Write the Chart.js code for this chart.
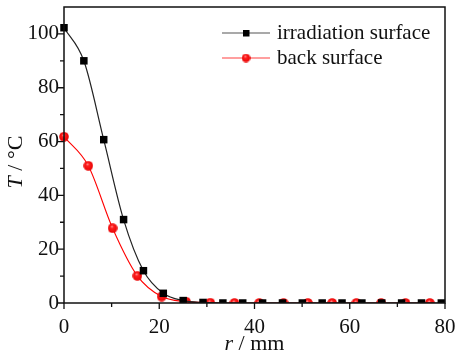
<!DOCTYPE html>
<html>
<head>
<meta charset="utf-8">
<script src="https://cdn.jsdelivr.net/npm/chart.js@4"></script>
<style>
  html, body { margin: 0; padding: 0; background: #fff; }
  #wrap { width: 455px; height: 355px; position: relative; }
</style>
</head>
<body>
<div id="wrap"><canvas id="grafico"></canvas></div>
<script>
// radio r (mm) y temperatura T (°C)
const rIrradiacion = [0, 4.17, 8.34, 12.51, 16.68, 20.85, 25.02, 29.19, 33.36, 37.53, 41.7, 45.87, 50.04, 54.21, 58.38, 62.55, 66.72, 70.89, 75.06, 79.23];
const tIrradiacion = [102.3, 90, 60.7, 31, 12, 3.6, 0.9, 0.2, 0, 0, 0, 0, 0, 0, 0, 0, 0, 0, 0, 0];
const rPosterior = [0, 5.1, 10.2, 15.4, 20.5, 25.6, 30.7, 35.8, 41.0, 46.1, 51.2, 56.3, 61.4, 66.6, 71.7, 76.8];
const tPosterior = [61.8, 51, 27.8, 10.1, 2.4, 0.5, 0.1, 0, 0, 0, 0, 0, 0, 0, 0, 0];
const etiquetasLeyenda = ['irradiation surface', 'back surface'];
const ticksX = [0, 20, 40, 60, 80];
const ticksY = [0, 20, 40, 60, 80, 100];

const FUENTE = '"Liberation Serif", "DejaVu Serif", serif';

// esfera roja con brillo
function crearEsfera(d) {
  const c = document.createElement('canvas');
  c.width = d; c.height = d;
  const g = c.getContext('2d');
  const grad = g.createRadialGradient(d * 0.42, d * 0.32, 0.3, d / 2, d / 2, d / 2);
  grad.addColorStop(0, '#ff9a9a');
  grad.addColorStop(0.25, '#ff2020');
  grad.addColorStop(1, '#e80000');
  g.fillStyle = grad;
  g.beginPath();
  g.arc(d / 2, d / 2, d / 2 - 0.2, 0, Math.PI * 2);
  g.fill();
  return c;
}
const esfera = crearEsfera(10);
const esferaLeyenda = crearEsfera(9);

const puntos = (xs, ys) => xs.map((x, i) => ({ x: x, y: ys[i] }));

const marcoYTicks = {
  id: 'marcoYTicks',
  afterDraw(chart) {
    const ctx = chart.ctx;
    const a = chart.chartArea;
    const sx = chart.scales.x;
    const sy = chart.scales.y;
    ctx.save();
    ctx.strokeStyle = '#111';
    ctx.lineWidth = 1.5;
    ctx.strokeRect(a.left, a.top, a.right - a.left, a.bottom - a.top);

    ctx.lineWidth = 1.3;
    ctx.beginPath();
    for (let v = 0; v <= 80; v += 10) {
      const px = sx.getPixelForValue(v);
      const largo = ticksX.includes(v) ? 6 : 4;
      ctx.moveTo(px, a.bottom);
      ctx.lineTo(px, a.bottom + largo);
    }
    for (let v = 0; v <= 100; v += 10) {
      const py = sy.getPixelForValue(v);
      const largo = ticksY.includes(v) ? 7 : 4;
      ctx.moveTo(a.left, py);
      ctx.lineTo(a.left - largo, py);
    }
    ctx.stroke();

    // titulos de ejes
    ctx.fillStyle = '#111';
    ctx.textBaseline = 'alphabetic';
    ctx.font = 'italic 22px ' + FUENTE;
    const wr = ctx.measureText('r').width;
    ctx.font = '22px ' + FUENTE;
    const wResto = ctx.measureText(' / mm').width;
    let x0 = (a.left + a.right) / 2 - (wr + wResto) / 2;
    ctx.font = 'italic 22px ' + FUENTE;
    ctx.fillText('r', x0, 350);
    ctx.font = '22px ' + FUENTE;
    ctx.fillText(' / mm', x0 + wr, 350);

    ctx.save();
    ctx.translate(22, 162);
    ctx.rotate(-Math.PI / 2);
    ctx.font = 'italic 22px ' + FUENTE;
    const wT = ctx.measureText('T').width;
    ctx.font = '22px ' + FUENTE;
    const wC = ctx.measureText(' / \u00B0C').width;
    const y0 = -(wT + wC) / 2;
    ctx.font = 'italic 22px ' + FUENTE;
    ctx.fillText('T', y0, 0);
    ctx.font = '22px ' + FUENTE;
    ctx.fillText(' / \u00B0C', y0 + wT, 0);
    ctx.restore();

    // leyenda
    const filas = [
      { y: 33, linea: '#555', tipo: 'cuadro' },
      { y: 58, linea: '#ff4040', tipo: 'esfera' }
    ];
    ctx.font = '21px ' + FUENTE;
    ctx.textBaseline = 'middle';
    filas.forEach((f, i) => {
      ctx.strokeStyle = f.linea;
      ctx.lineWidth = 1.2;
      ctx.beginPath();
      ctx.moveTo(222, f.y);
      ctx.lineTo(270, f.y);
      ctx.stroke();
      if (f.tipo === 'cuadro') {
        ctx.fillStyle = '#000';
        ctx.fillRect(243, f.y - 3, 6.5, 6.5);
      } else {
        ctx.drawImage(esferaLeyenda, 241.5, f.y - 4.5);
      }
      ctx.fillStyle = '#111';
      ctx.fillText(etiquetasLeyenda[i], 277, f.y);
    });
    ctx.restore();
  }
};

const ctx = document.getElementById('grafico').getContext('2d');
const grafico = new Chart(ctx, {
  type: 'line',
  data: {
    datasets: [
      {
        label: etiquetasLeyenda[0],
        data: puntos(rIrradiacion, tIrradiacion),
        borderColor: '#222',
        borderWidth: 1.2,
        pointStyle: 'rect',
        pointRadius: 5.3,
        pointBackgroundColor: '#000',
        pointBorderWidth: 0,
        cubicInterpolationMode: 'monotone',
        clip: { left: 8, right: 8, top: 8, bottom: 0 }
      },
      {
        label: etiquetasLeyenda[1],
        data: puntos(rPosterior, tPosterior),
        borderColor: '#ff0000',
        borderWidth: 1.1,
        pointStyle: esfera,
        pointRadius: 5,
        cubicInterpolationMode: 'monotone',
        clip: { left: 8, right: 8, top: 8, bottom: 0 }
      }
    ]
  },
  options: {
    responsive: true,
    maintainAspectRatio: false,
    animation: false,
    events: [],
    layout: { padding: { top: 7, right: 10, left: 0, bottom: 0 } },
    plugins: {
      legend: { display: false },
      tooltip: { enabled: false }
    },
    scales: {
      x: {
        type: 'linear',
        min: 0,
        max: 80,
        afterBuildTicks: s => { s.ticks = ticksX.map(v => ({ value: v })); },
        afterFit: s => { s.height = 52; s.paddingLeft = 0; s.paddingRight = 0; },
        grid: { display: false, drawTicks: false },
        border: { display: false },
        ticks: { color: '#111', font: { family: FUENTE, size: 21 }, padding: 12, maxRotation: 0 }
      },
      y: {
        min: 0,
        max: 110,
        afterBuildTicks: s => { s.ticks = ticksY.map(v => ({ value: v })); },
        afterFit: s => { s.width = 64; s.paddingTop = 0; s.paddingBottom = 0; },
        grid: { display: false, drawTicks: false },
        border: { display: false },
        ticks: { color: '#111', font: { family: FUENTE, size: 21 }, padding: 5 }
      }
    }
  },
  plugins: [marcoYTicks]
});
</script>
</body>
</html>
